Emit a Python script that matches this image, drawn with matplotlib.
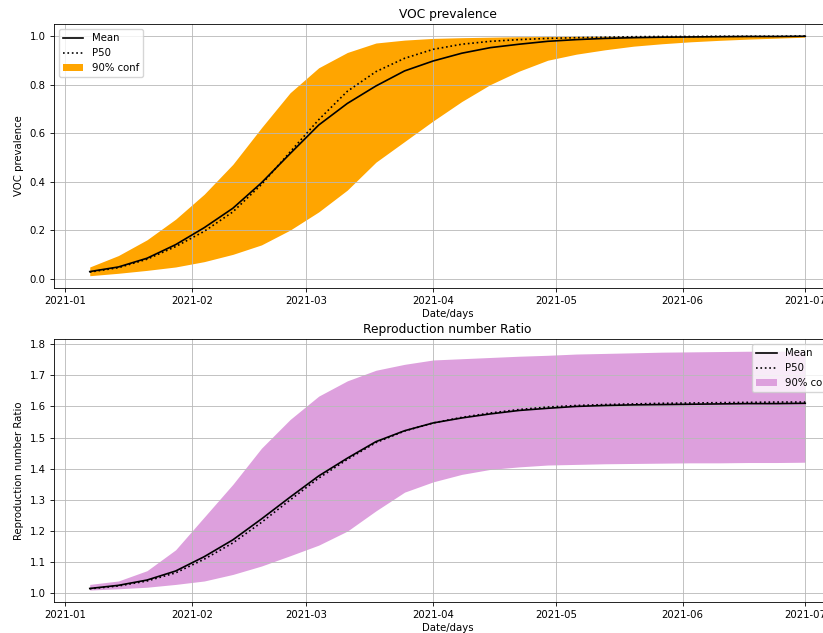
import matplotlib
matplotlib.use("Agg")
import numpy as np
import pandas as pd
import matplotlib.pyplot as plt
import matplotlib.dates as mdates

# weekly samples, 2021-01-07 .. 2021-07-01
dates = pd.date_range("2021-01-07", "2021-07-01", freq="7D")

# VOC prevalence
voc_mean = [0.029, 0.048, 0.084, 0.140, 0.210, 0.290, 0.395, 0.515, 0.633, 0.722, 0.794, 0.856,
            0.897, 0.929, 0.952, 0.966, 0.978, 0.985, 0.990, 0.993, 0.995, 0.996, 0.997, 0.998,
            0.998, 0.999]
voc_p50 = [0.027, 0.045, 0.080, 0.132, 0.195, 0.275, 0.388, 0.522, 0.655, 0.772, 0.853, 0.908,
           0.945, 0.966, 0.978, 0.985, 0.990, 0.993, 0.995, 0.997, 0.998, 0.998, 0.999, 0.999,
           0.999, 1.000]
voc_lo = [0.012, 0.022, 0.034, 0.048, 0.070, 0.100, 0.139, 0.200, 0.275, 0.365, 0.480, 0.565,
          0.650, 0.730, 0.800, 0.855, 0.900, 0.925, 0.943, 0.958, 0.968, 0.976, 0.982, 0.987,
          0.991, 0.995]
voc_hi = [0.048, 0.095, 0.160, 0.245, 0.348, 0.471, 0.622, 0.766, 0.869, 0.932, 0.971, 0.983,
          0.990, 0.993, 0.995, 0.997, 0.998, 0.999, 0.999, 1.000, 1.000, 1.000, 1.000, 1.000,
          1.000, 1.000]

# reproduction number ratio
r_mean = [1.016, 1.026, 1.043, 1.072, 1.118, 1.172, 1.239, 1.309, 1.377, 1.434, 1.487, 1.522,
          1.547, 1.563, 1.576, 1.587, 1.594, 1.600, 1.603, 1.605, 1.606, 1.607, 1.608, 1.609,
          1.609, 1.610]
r_p50 = [1.015, 1.024, 1.040, 1.066, 1.110, 1.162, 1.228, 1.300, 1.370, 1.430, 1.484, 1.521,
         1.547, 1.565, 1.579, 1.590, 1.598, 1.603, 1.606, 1.608, 1.610, 1.611, 1.612, 1.613,
         1.614, 1.614]
r_lo = [1.011, 1.015, 1.020, 1.029, 1.040, 1.061, 1.088, 1.121, 1.155, 1.200, 1.265, 1.325,
        1.358, 1.382, 1.398, 1.406, 1.412, 1.414, 1.416, 1.417, 1.418, 1.419, 1.419, 1.420,
        1.420, 1.421]
r_hi = [1.029, 1.040, 1.073, 1.140, 1.245, 1.350, 1.466, 1.558, 1.633, 1.682, 1.716, 1.735,
        1.749, 1.753, 1.757, 1.761, 1.764, 1.768, 1.770, 1.772, 1.774, 1.775, 1.776, 1.777,
        1.777, 1.778]

plt.rcParams["font.size"] = 7.3
plt.rcParams["axes.linewidth"] = 0.6
plt.rcParams["xtick.major.width"] = 0.6
plt.rcParams["ytick.major.width"] = 0.6
plt.rcParams["xtick.major.size"] = 2.6
plt.rcParams["ytick.major.size"] = 2.6

fig = plt.figure(figsize=(8.23, 6.33), dpi=100)
ax1 = fig.add_axes([0.0656, 0.5455, 0.9563, 0.4166])
ax2 = fig.add_axes([0.0656, 0.049, 0.9563, 0.4155])


def draw(ax, mean, p50, lo, hi, color, title, ylabel, loc):
    band = ax.fill_between(dates, lo, hi, color=color, linewidth=0, label="90% conf")
    l_mean, = ax.plot(dates, mean, "k-", linewidth=1.2, label="Mean")
    l_p50, = ax.plot(dates, p50, "k:", linewidth=1.2, label="P50")
    ax.set_title(title, fontsize=8.8, pad=4)
    ax.set_ylabel(ylabel)
    ax.set_xlabel("Date/days", labelpad=2)
    ax.xaxis.set_major_locator(mdates.MonthLocator())
    ax.xaxis.set_major_formatter(mdates.DateFormatter("%Y-%m"))
    ax.grid(True, color="#b8b8b8", linewidth=0.6)
    ax.legend(handles=[l_mean, l_p50, band], loc=loc, handlelength=2.0)


draw(ax1, voc_mean, voc_p50, voc_lo, voc_hi, "orange", "VOC prevalence", "VOC prevalence", "upper left")
draw(ax2, r_mean, r_p50, r_lo, r_hi, "plum", "Reproduction number Ratio",
     "Reproduction number Ratio", "upper right")
ax1.set_yticks(np.arange(0, 1.01, 0.2))
ax2.set_yticks(np.arange(1.0, 1.81, 0.1))

fig.savefig("out.png", dpi=100)
